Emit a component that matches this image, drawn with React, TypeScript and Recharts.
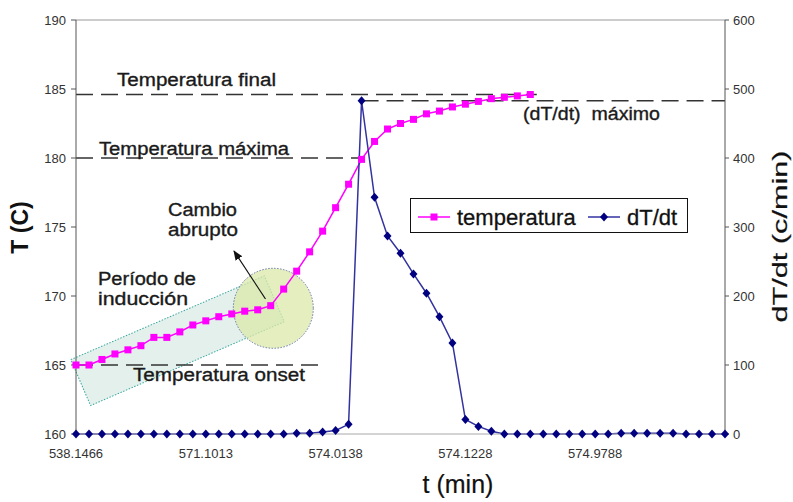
import React from 'react';
import { LineChart, Line, XAxis, YAxis, ReferenceLine, Legend } from 'recharts';

const FONT = '"Liberation Sans", Arial, sans-serif';

// x tick labels (t, min) and the point index they sit on
const tLabels = ['538.1466', '571.1013', '574.0138', '574.1228', '574.9788'];
const tLabelPos = [0, 10, 20, 30, 40];

// temperatura (C), left axis
const temperatura = [
  165.0, 165.0, 165.4, 165.8, 166.1, 166.4, 167.0, 167.0, 167.4, 167.9,
  168.2, 168.5, 168.7, 168.9, 169.0, 169.3, 170.5, 171.8, 173.2, 174.7,
  176.4, 178.1, 179.9, 181.2, 182.1, 182.5, 182.8, 183.2, 183.4, 183.7,
  183.9, 184.1, 184.3, 184.4, 184.5, 184.6,
];

// dT/dt (c/min), right axis
const dTdt = [
  0, 0, 0, 0, 0, 0, 0, 0, 0, 0,
  0, 0, 0, 0, 0, 0, 0, 1, 1, 3,
  5, 14, 483, 343, 287, 262, 232, 204, 170, 132,
  21, 11, 4, 0, 0, 0, 0, 0, 0, 0,
  0, 0, 1, 1, 1, 1, 1, 0, 0, 0,
  0,
];

const tTicks = [160, 165, 170, 175, 180, 185, 190];
const dTicks = [0, 100, 200, 300, 400, 500, 600];

const tempFinal = 184.6;
const tempMaxima = 180;
const tempOnset = 165;
const dTdtMax = 483;

const data = dTdt.map((v, i) => ({
  i,
  dTdt: v,
  temperatura: i < temperatura.length ? temperatura[i] : null,
}));

const SquareDot = (p: any) => {
  const { cx, cy, index, value } = p;
  if (cx == null || cy == null || value == null) return <g key={`s${index}`} />;
  return <rect key={`s${index}`} x={cx - 3.5} y={cy - 3.5} width={7} height={7} fill="#ff00ff" />;
};

const DiamondDot = (p: any) => {
  const { cx, cy, index } = p;
  if (cx == null || cy == null) return <g key={`d${index}`} />;
  return (
    <path
      key={`d${index}`}
      d={`M${cx},${cy - 4.5}L${cx + 4},${cy}L${cx},${cy + 4.5}L${cx - 4},${cy}Z`}
      fill="#000080"
    />
  );
};

const LegendBox = () => (
  <div
    style={{
      width: 278,
      height: 35,
      boxSizing: 'border-box',
      border: '1px solid #111',
      background: '#fff',
      position: 'relative',
    }}
  >
    <svg width={276} height={33} style={{ position: 'absolute', left: 0, top: 0 }}>
      <line x1={7} y1={18} x2={39} y2={18} stroke="#ff00ff" strokeWidth={1.5} />
      <rect x={19.5} y={14.5} width={7} height={7} fill="#ff00ff" />
      <text x={46} y={26} fontSize={22} fill="#111" fontFamily={FONT} stroke="#111" strokeWidth={0.3}>
        temperatura
      </text>
      <line x1={177} y1={18} x2={209} y2={18} stroke="#3333a0" strokeWidth={1.5} />
      <path d="M193,13.5L197,18L193,22.5L189,18Z" fill="#000080" />
      <text x={216} y={26} fontSize={22} fill="#111" fontFamily={FONT} stroke="#111" strokeWidth={0.3}>
        dT/dt
      </text>
    </svg>
  </div>
);

const dash = { stroke: '#333', strokeDasharray: '17 8', strokeWidth: 1.3 };

// wide, slightly heavy annotation text
const Note = ({ x, y, w, children }: { x: number; y: number; w: number; children: string }) => (
  <text
    x={x}
    y={y}
    fontFamily={FONT}
    fontSize={18}
    fill="#1a1a1a"
    stroke="#1a1a1a"
    strokeWidth={0.35}
    textLength={w}
    lengthAdjust="spacingAndGlyphs"
  >
    {children}
  </text>
);

export default function App() {
  return (
    <div
      style={{
        position: 'absolute',
        left: 0,
        top: 0,
        width: 793,
        height: 502,
        overflow: 'hidden',
        background: '#fff',
        fontFamily: FONT,
      }}
    >
      {/* shaded annotation shapes, under the series */}
      <svg width={793} height={502} style={{ position: 'absolute', left: 0, top: 0 }}>
        <rect
          x={-105.5}
          y={-25}
          width={211}
          height={50}
          transform="translate(177.5,340.7) rotate(-23.4)"
          fill="#dcece6"
          fillOpacity={0.8}
          stroke="#3aa8a0"
          strokeDasharray="1.5 1.5"
        />
        <circle
          cx={273.3}
          cy={308.3}
          r={40}
          fill="#dbe8a8"
          fillOpacity={0.75}
          stroke="#6a7aa8"
          strokeDasharray="1.5 1.5"
        />
      </svg>

      <div style={{ position: 'absolute', left: 0, top: 0 }}>
        <LineChart width={793} height={502} data={data} margin={{ top: 20, right: 0, bottom: 0, left: 0 }}>
          <XAxis
            dataKey="i"
            type="number"
            domain={[0, 50]}
            ticks={tLabelPos}
            interval={0}
            tickFormatter={(v: number) => tLabels[tLabelPos.indexOf(v)] ?? ''}
            tickLine={false}
            tickSize={0}
            tickMargin={15}
            height={68}
            axisLine={{ stroke: '#a8a8a8' }}
            tick={{ fontSize: 13, fill: '#333', fontFamily: FONT }}
          />
          <YAxis
            yAxisId="T"
            domain={[160, 190]}
            ticks={tTicks}
            interval={0}
            width={76}
            tickSize={5}
            tickMargin={5}
            axisLine={{ stroke: '#555' }}
            tickLine={{ stroke: '#555' }}
            tick={{ fontSize: 13, fill: '#333', fontFamily: FONT }}
          />
          <YAxis
            yAxisId="d"
            orientation="right"
            domain={[0, 600]}
            ticks={dTicks}
            interval={0}
            width={68}
            tickSize={4}
            tickMargin={4}
            axisLine={{ stroke: '#555' }}
            tickLine={{ stroke: '#555' }}
            tick={{ fontSize: 13, fill: '#333', fontFamily: FONT }}
          />
          <ReferenceLine yAxisId="T" y={190} stroke="#999" />
          <ReferenceLine yAxisId="T" segment={[{ x: 0, y: tempFinal }, { x: 35.5, y: tempFinal }]} {...dash} />
          <ReferenceLine yAxisId="T" segment={[{ x: 0, y: tempMaxima }, { x: 22, y: tempMaxima }]} {...dash} />
          <ReferenceLine yAxisId="T" segment={[{ x: 0, y: tempOnset }, { x: 19.2, y: tempOnset }]} {...dash} />
          <ReferenceLine yAxisId="d" segment={[{ x: 22, y: dTdtMax }, { x: 50, y: dTdtMax }]} {...dash} />
          <Line
            yAxisId="T"
            dataKey="temperatura"
            name="temperatura"
            stroke="#ff00ff"
            strokeWidth={1.5}
            dot={SquareDot}
            activeDot={false}
            isAnimationActive={false}
          />
          <Line
            yAxisId="d"
            dataKey="dTdt"
            name="dT/dt"
            stroke="#3333a0"
            strokeWidth={1.5}
            dot={DiamondDot}
            activeDot={false}
            isAnimationActive={false}
          />
          <Legend
            layout="horizontal"
            verticalAlign="middle"
            align="center"
            content={<LegendBox />}
            wrapperStyle={{ left: 410, top: 198, width: 278, height: 35 }}
          />
        </LineChart>
      </div>

      {/* annotation texts, arrow and axis titles */}
      <svg width={793} height={502} style={{ position: 'absolute', left: 0, top: 0, pointerEvents: 'none' }}>
        <defs>
          <marker id="ah" markerWidth="10" markerHeight="10" refX="9" refY="5" orient="auto" markerUnits="userSpaceOnUse">
            <path d="M0,1 L10,5 L0,9 Z" fill="#111" />
          </marker>
        </defs>
        <line x1={265.5} y1={299} x2={234} y2={251} stroke="#111" strokeWidth={1.2} markerEnd="url(#ah)" />
        <Note x={117} y={86} w={159}>Temperatura final</Note>
        <Note x={99} y={154.5} w={190}>Temperatura máxima</Note>
        <Note x={168} y={216} w={69}>Cambio</Note>
        <Note x={168} y={235.5} w={70}>abrupto</Note>
        <Note x={98} y={284.5} w={98}>Período de</Note>
        <Note x={98} y={305} w={90}>inducción</Note>
        <Note x={133} y={381} w={172}>Temperatura onset</Note>
        <Note x={523} y={120} w={137}>{'(dT/dt)\u00a0 máximo'}</Note>
        <text
          transform="translate(27.5,227.5) rotate(-90)"
          textAnchor="middle"
          fontFamily={FONT}
          fontSize={23}
          fontWeight="bold"
          fill="#111"
        >
          T (C)
        </text>
        <text
          transform="translate(787,236.5) rotate(-90)"
          textAnchor="middle"
          fontFamily={FONT}
          fontSize={21}
          fill="#111"
          stroke="#111"
          strokeWidth={0.2}
          textLength={172}
          lengthAdjust="spacingAndGlyphs"
        >
          dT/dt (c/min)
        </text>
        <text
          x={458}
          y={493}
          textAnchor="middle"
          fontFamily={FONT}
          fontSize={25}
          fill="#111"
          stroke="#111"
          strokeWidth={0.2}
        >
          t (min)
        </text>
      </svg>
    </div>
  );
}
